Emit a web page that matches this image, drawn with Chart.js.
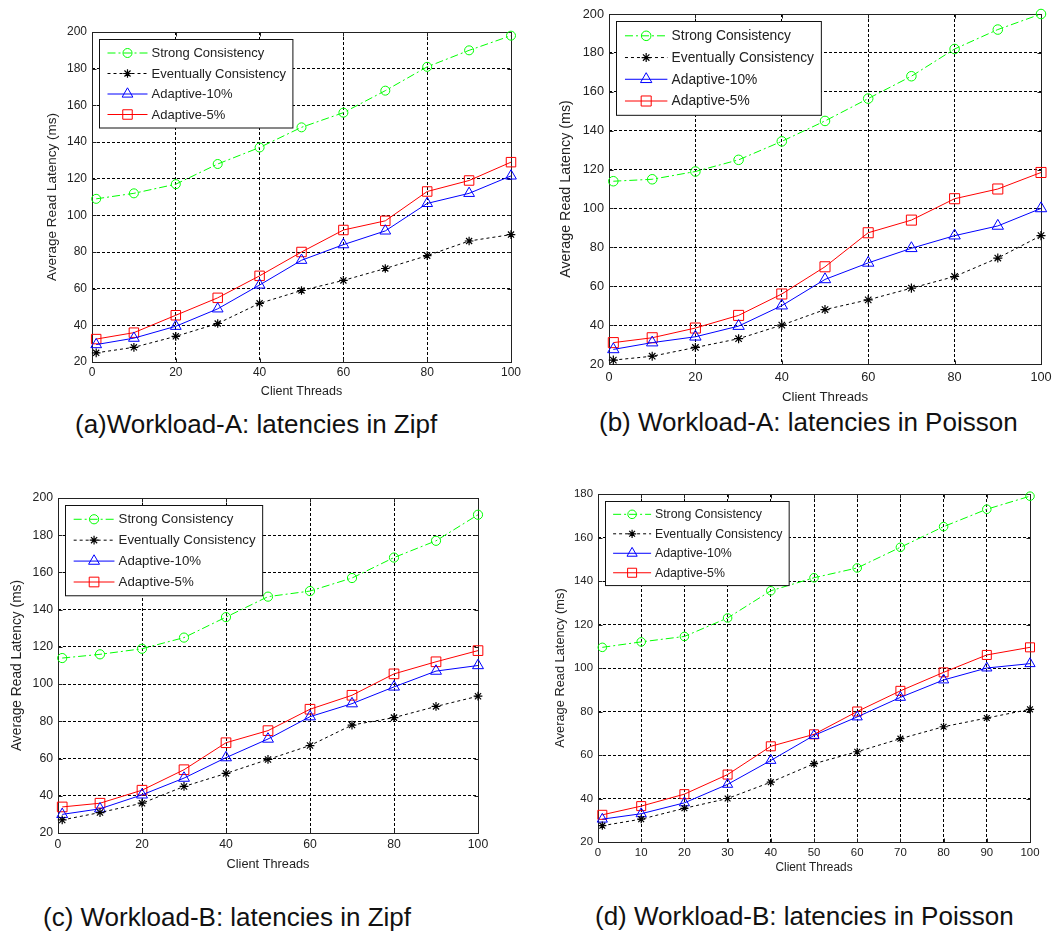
<!DOCTYPE html>
<html>
<head>
<meta charset="utf-8">
<script src="https://cdn.jsdelivr.net/npm/chart.js@4.4.1/dist/chart.umd.min.js"></script>
<style>
  body { margin: 0; background: #fff; width: 1052px; height: 931px; position: relative; overflow: hidden; }
  canvas { position: absolute; }
  .cap { position: absolute; font-family: "Liberation Sans", Arial, sans-serif; font-size: 26px; color: #111; white-space: nowrap; line-height: 1; }
</style>
</head>
<body>
<div class="cap" style="left:75px;top:411px">(a)Workload-A: latencies in Zipf</div>
<div class="cap" style="left:599px;top:409px">(b) Workload-A: latencies in Poisson</div>
<div class="cap" style="left:43px;top:904px">(c) Workload-B: latencies in Zipf</div>
<div class="cap" style="left:595px;top:903px">(d) Workload-B: latencies in Poisson</div>

<script>
// x positions (client threads)
const threads = [1, 10, 20, 30, 40, 50, 60, 70, 80, 90, 100];
const seriesNames = ['Strong Consistency', 'Eventually Consistency', 'Adaptive-10%', 'Adaptive-5%'];

// (a) Workload-A, Zipf
const aStrong     = [109, 112, 117, 128, 137, 148, 156, 168, 181, 190, 198];
const aEventual   = [25, 28, 34, 41, 52, 59, 64.5, 71, 78, 86, 89.5];
const aAdaptive10 = [29.5, 33, 39.5, 49, 62, 75.5, 84, 91.5, 106.5, 112, 121.5];
const aAdaptive5  = [32.5, 36, 45.5, 55, 67, 80, 92, 97, 113, 119, 129];

// (b) Workload-A, Poisson
const bStrong     = [114, 115, 119, 125, 134.5, 145, 156.5, 168, 182, 192, 200];
const bEventual   = [22, 24, 28.5, 33, 40, 48, 53, 59, 65, 74.5, 86];
const bAdaptive10 = [27.5, 31, 34, 39.5, 50, 63.5, 72, 79.5, 86, 91, 100];
const bAdaptive5  = [31, 33.5, 38.5, 45, 56, 70, 87.5, 94, 105, 110, 118.5];

// (c) Workload-B, Zipf
const cStrong     = [114, 116, 119, 125, 136, 147, 150, 157, 168, 177, 191];
const cEventual   = [27, 31, 36, 45, 52, 59.5, 67, 78, 82, 88, 93.5];
const cAdaptive10 = [30, 33, 40.5, 49.5, 60.5, 70.5, 82.5, 89.5, 98.5, 107, 110];
const cAdaptive5  = [34, 36, 43, 54, 68.5, 75, 86.5, 94, 105.5, 112, 118];

// (d) Workload-B, Poisson
const dStrong     = [109.5, 112, 114.5, 123, 135.5, 141.5, 146, 155.5, 165, 173, 179];
const dEventual   = [27.5, 30.5, 35.5, 40, 47.5, 56, 61.5, 67.5, 73, 77, 81];
const dAdaptive10 = [30.5, 33, 38, 46.5, 57.5, 69, 77.5, 86.5, 94.5, 100, 102];
const dAdaptive5  = [32.5, 36.5, 42, 51, 64, 69.5, 80, 89.5, 98, 106, 109.5];

const FONT = '"Liberation Sans", Arial, sans-serif';
const TEXT = '#222';

// where each axes box sits on the page
const panels = [
    { plot: [92, 32, 511, 362],  yTickR: 87,  yTitleX: 52,  xTickY: 373, xTitleY: 392, xStep: 20, yMax: 200, k: 1,
      values: [aStrong, aEventual, aAdaptive10, aAdaptive5] },
    { plot: [609, 14, 1041, 364], yTickR: 604, yTitleX: 566, xTickY: 377, xTitleY: 397, xStep: 20, yMax: 200, k: 1.06,
      values: [bStrong, bEventual, bAdaptive10, bAdaptive5] },
    { plot: [58, 498, 478, 833],  yTickR: 53,  yTitleX: 17,  xTickY: 845, xTitleY: 864, xStep: 20, yMax: 200, k: 1.02,
      values: [cStrong, cEventual, cAdaptive10, cAdaptive5] },
    { plot: [598, 494, 1030, 842], yTickR: 593, yTitleX: 560, xTickY: 853, xTitleY: 868, xStep: 10, yMax: 180, k: 0.95,
      values: [dStrong, dEventual, dAdaptive10, dAdaptive5] }
];

// box round the axes plus the small inward ticks
const boxPlugin = {
    id: 'axesBox',
    beforeDatasetsDraw(chart) {
        const { ctx, chartArea: ca, scales } = chart;
        const L = Math.round(ca.left) + 0.5, R = Math.round(ca.right) + 0.5;
        const T = Math.round(ca.top) + 0.5, B = Math.round(ca.bottom) + 0.5;
        ctx.save();
        ctx.strokeStyle = '#222';
        ctx.lineWidth = 1;
        ctx.setLineDash([]);
        ctx.beginPath();
        scales.x.ticks.forEach(t => {
            const x = Math.round(scales.x.getPixelForValue(t.value)) + 0.5;
            ctx.moveTo(x, B); ctx.lineTo(x, B - 4);
            ctx.moveTo(x, T); ctx.lineTo(x, T + 4);
        });
        scales.y.ticks.forEach(t => {
            const y = Math.round(scales.y.getPixelForValue(t.value)) + 0.5;
            ctx.moveTo(L, y); ctx.lineTo(L + 4, y);
            ctx.moveTo(R, y); ctx.lineTo(R - 4, y);
        });
        ctx.stroke();
        ctx.strokeRect(L, T, R - L, B - T);
        ctx.restore();
    }
};

// MATLAB style legend box in the upper left corner
const legendPlugin = {
    id: 'boxLegend',
    afterDraw(chart, args, opts) {
        const { ctx, chartArea: ca } = chart;
        const k = opts.k;
        const ds = chart.data.datasets;
        ctx.save();
        ctx.font = (13 * k) + 'px ' + FONT;
        const tw = Math.max(...ds.map(d => ctx.measureText(d.label).width));
        const bx = Math.round(ca.left + 7 * k) + 0.5, by = Math.round(ca.top + 7 * k) + 0.5;
        const rowH = 20.5 * k;
        const bw = 52 * k + tw + 7 * k, bh = 27 * k + 3 * rowH;
        ctx.fillStyle = '#fff';
        ctx.fillRect(bx, by, bw, bh);
        ctx.strokeStyle = '#111';
        ctx.lineWidth = 1;
        ctx.setLineDash([]);
        ctx.strokeRect(bx, by, bw, bh);
        ds.forEach((d, i) => {
            const cy = by + 13.5 * k + i * rowH;
            ctx.strokeStyle = d.borderColor;
            ctx.lineWidth = d.borderWidth;
            ctx.setLineDash(d.borderDash || []);
            ctx.beginPath();
            ctx.moveTo(bx + 8 * k, cy);
            ctx.lineTo(bx + 48 * k, cy);
            ctx.stroke();
            ctx.setLineDash([]);
            ctx.fillStyle = 'rgba(0,0,0,0)';
            ctx.lineWidth = d.pointBorderWidth;
            Chart.helpers.drawPoint(ctx, {
                pointStyle: d.pointStyle, radius: d.pointRadius, rotation: 0, borderWidth: d.pointBorderWidth
            }, bx + 28 * k, cy);
            ctx.fillStyle = TEXT;
            ctx.textBaseline = 'middle';
            ctx.textAlign = 'left';
            ctx.fillText(d.label, bx + 52 * k, cy + 0.5);
        });
        ctx.restore();
    }
};

function makeDatasets(values, k) {
    const styles = [
        { color: '#00ff00', dash: [8, 3, 2, 3], point: 'circle',   r: 4.5, w: 1 },
        { color: '#000000', dash: [3, 3],       point: 'star',     r: 4.3, w: 1.2 },
        { color: '#0000ff', dash: [],           point: 'triangle', r: 6.2, w: 1 },
        { color: '#ff0000', dash: [],           point: 'rect',     r: 6.7, w: 1 }
    ];
    return values.map((vals, i) => ({
        label: seriesNames[i],
        data: threads.map((x, j) => ({ x: x, y: vals[j] })),
        borderColor: styles[i].color,
        borderDash: styles[i].dash,
        borderWidth: 1,
        pointStyle: styles[i].point,
        pointRadius: styles[i].r * k,
        pointBorderColor: styles[i].color,
        pointBackgroundColor: 'rgba(0,0,0,0)',
        pointBorderWidth: styles[i].w,
        tension: 0,
        fill: false,
        clip: false
    }));
}

function makePanel(p) {
    const [l, t, r, b] = p.plot;
    const k = p.k;
    const tickSize = 12 * k, xTitleSize = 12.5 * k, yTitleSize = 13.5 * k;
    const yLh = yTitleSize * 1.2, xLh = xTitleSize * 1.2;
    const scaleLeft = p.yTitleX - yLh / 2 - 4;
    const cL = Math.floor(scaleLeft) - 2;
    const cT = t - 20;
    const xH = (p.xTitleY - b) + xLh / 2 + 4;
    const cR = r + 25;
    const cB = Math.ceil(b + xH) + 4;

    const canvas = document.createElement('canvas');
    canvas.width = cR - cL;
    canvas.height = cB - cT;
    canvas.style.left = cL + 'px';
    canvas.style.top = cT + 'px';
    canvas.style.width = (cR - cL) + 'px';
    canvas.style.height = (cB - cT) + 'px';
    document.body.appendChild(canvas);

    new Chart(canvas.getContext('2d'), {
        type: 'line',
        data: { datasets: makeDatasets(p.values, k) },
        options: {
            responsive: false,
            animation: false,
            devicePixelRatio: 1,
            layout: { padding: { left: scaleLeft - cL, top: 20, right: 25, bottom: cB - (b + xH) } },
            plugins: {
                legend: { display: false },
                tooltip: { enabled: false },
                boxLegend: { k: k }
            },
            scales: {
                x: {
                    type: 'linear', min: 0, max: 100,
                    ticks: { stepSize: p.xStep, padding: p.xTickY - b - tickSize * 0.6, color: TEXT, font: { family: FONT, size: tickSize }, maxRotation: 0 },
                    grid: { color: '#000', lineWidth: 1, drawTicks: false },
                    border: { display: false, dash: [3, 2] },
                    title: { display: true, text: 'Client Threads', color: TEXT, font: { family: FONT, size: xTitleSize }, padding: 4 },
                    afterFit: s => { s.height = xH; }
                },
                y: {
                    type: 'linear', min: 20, max: p.yMax,
                    ticks: { stepSize: 20, padding: l - p.yTickR, color: TEXT, font: { family: FONT, size: tickSize } },
                    grid: { color: '#000', lineWidth: 1, drawTicks: false },
                    border: { display: false, dash: [3, 2] },
                    title: { display: true, text: 'Average Read Latency (ms)', color: TEXT, font: { family: FONT, size: yTitleSize }, padding: 4 },
                    afterFit: s => { s.width = l - scaleLeft; }
                }
            }
        },
        plugins: [boxPlugin, legendPlugin]
    });
}

panels.forEach(makePanel);
</script>
</body>
</html>
